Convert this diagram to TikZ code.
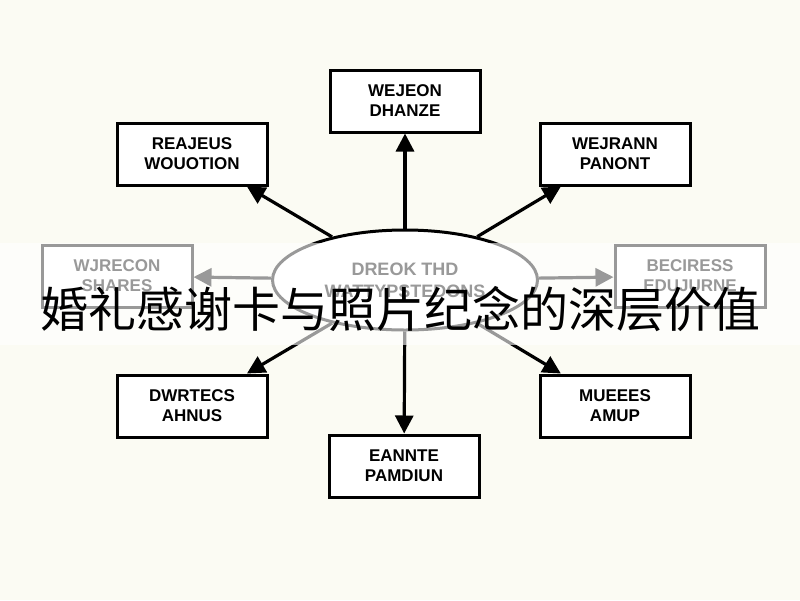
\documentclass[tikz,border=0pt]{standalone}
\usepackage{fontspec}
\setsansfont{Liberation Sans}
\newfontfamily\cjk{Noto Sans CJK SC}
\usetikzlibrary{arrows.meta,shapes.geometric}

\tikzset{
  card/.style={draw=black, line width=3pt, fill=white, minimum width=150pt, minimum height=62pt,
    align=center, font=\sffamily\bfseries\fontsize{17}{20}\selectfont},
  hub/.style={ellipse, draw=black, line width=3pt, fill=white, minimum width=265pt, minimum height=100pt,
    align=center, font=\sffamily\bfseries\fontsize{18}{22}\selectfont},
  spoke/.style={line width=3.2pt, -{Triangle[length=18pt,width=18pt]}}
}

\begin{document}
\begin{tikzpicture}[x=1pt,y=-1pt]
\fill[fill={rgb,255:red,251;green,251;blue,243}] (0,0) rectangle (800,600);
\useasboundingbox (0,0) rectangle (800,600);

\node[hub] (hub) at (405,280) {DREOK THD\\WATTYPSTEDONS};

\node[card] (top) at (405,101) {WEJEON\\DHANZE};
\node[card] (tl) at (192,154) {REAJEUS\\WOUOTION};
\node[card] (tr) at (615,154) {WEJRANN\\PANONT};
\node[card] (left) at (117,276) {WJRECON\\SHARES};
\node[card] (right) at (690,276) {BECIRESS\\EDUJURNE};
\node[card] (bl) at (192,406) {DWRTECS\\AHNUS};
\node[card] (br) at (615,406) {MUEEES\\AMUP};
\node[card] (bot) at (404,466) {EANNTE\\PAMDIUN};

% spokes from the hub
\foreach \n in {top,tl,tr,left,right,bl,br,bot}
{   \draw[spoke] (hub) -- (\n);
}

% washed band behind the title
\fill[white, opacity=0.6] (0,243) rectangle (800,345);
\node[font=\cjk\fontsize{48}{52}\selectfont] (title) at (400,309) {婚礼感谢卡与照片纪念的深层价值};
\end{tikzpicture}
\end{document}
